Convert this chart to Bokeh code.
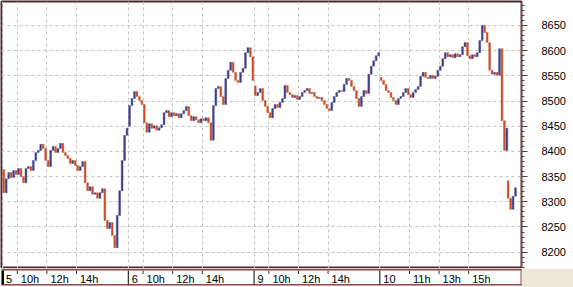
from bokeh.plotting import figure
from bokeh.layouts import column
from bokeh.models import Range1d, FixedTicker, ColumnDataSource, Grid
from bokeh.core.properties import value
from bokeh.embed import file_html
from bokeh.resources import INLINE

# ---------------- data ----------------
day_labels = ["5", "6", "9", "10"]
day_starts = [0.0, 8.5, 17.0, 25.5]          # trading hours elapsed at each day's 9:00 open
hour_labels = [["10h", "12h", "14h"], ["10h", "12h", "14h"],
               ["10h", "12h", "14h"], ["11h", "13h", "15h"]]
hour_values = [[10, 12, 14], [10, 12, 14], [10, 12, 14], [11, 13, 15]]
y_ticks = [8200, 8250, 8300, 8350, 8400, 8450, 8500, 8550, 8600, 8650]

# 10-minute closes per session
open_d5 = 8364
close_d5 = [8318, 8346, 8358, 8348, 8362, 8354, 8366, 8350, 8338, 8366,
            8370, 8362, 8382, 8398, 8402, 8414, 8406, 8382, 8370, 8402,
            8410, 8398, 8406, 8416, 8398, 8392, 8386, 8376, 8382, 8372,
            8362, 8370, 8380, 8338, 8322, 8330, 8315, 8318, 8307, 8318,
            8326, 8263, 8247, 8259, 8233, 8209, 8273, 8322, 8382, 8432,
            8446]
open_d6 = 8450
close_d6 = [8491, 8505, 8519, 8509, 8501, 8493, 8457, 8438, 8455, 8446,
            8451, 8442, 8447, 8453, 8477, 8481, 8469, 8477, 8471, 8475,
            8467, 8475, 8481, 8489, 8471, 8461, 8469, 8463, 8457, 8465,
            8461, 8467, 8457, 8422, 8491, 8525, 8529, 8509, 8493, 8545,
            8561, 8577, 8557, 8541, 8537, 8557, 8565, 8596, 8606, 8588,
            8541]
open_d9 = 8530
close_d9 = [8511, 8517, 8525, 8501, 8489, 8477, 8467, 8485, 8493, 8487,
            8497, 8505, 8531, 8517, 8513, 8507, 8511, 8503, 8509, 8517,
            8521, 8525, 8515, 8517, 8509, 8505, 8507, 8501, 8493, 8485,
            8481, 8497, 8509, 8517, 8521, 8519, 8533, 8545, 8541, 8529,
            8521, 8505, 8489, 8509, 8521, 8515, 8553, 8569, 8580, 8590,
            8596]
open_d10 = 8547
close_d10 = [8541, 8533, 8521, 8517, 8507, 8501, 8493, 8505, 8509, 8517,
             8525, 8513, 8507, 8517, 8523, 8529, 8549, 8557, 8547, 8545,
             8551, 8545, 8549, 8561, 8569, 8584, 8596, 8588, 8592, 8586,
             8594, 8588, 8592, 8608, 8616, 8590, 8584, 8592, 8588, 8596,
             8620, 8650, 8636, 8616, 8561, 8553, 8557, 8551, 8604, 8461,
             8402, 8446]
open_d10_late = 8342
close_d10_late = [8307, 8285, 8311, 8328]

sessions = [  # (day index, session start hour, open, closes)
    (0, 9.0, open_d5, close_d5),
    (1, 9.0, open_d6, close_d6),
    (2, 9.0, open_d9, close_d9),
    (3, 9.0, open_d10, close_d10),
    (3, 17.0 + 35 / 60, open_d10_late, close_d10_late),
]

UP = "#40408c"
DOWN = "#c8502a"

xs, tops, bots, cols = [], [], [], []
for d, start, op, closes in sessions:
    prev = op
    for i, c in enumerate(closes):
        xs.append(day_starts[d] + (start - 9.0) + (i + 0.5) / 6.0)
        tops.append(max(prev, c))
        bots.append(min(prev, c))
        cols.append(UP if c >= prev else DOWN)
        prev = c
bars = ColumnDataSource(dict(x=xs, top=tops, bottom=bots, color=cols))

# ---------------- main price panel ----------------
X0, X1 = -0.0676, 35.07
Y_BOT, Y_TOP = 8167.6, 8697.6
xr = Range1d(X0, X1)

p = figure(width=573, height=268, x_range=xr, y_range=Range1d(Y_BOT, Y_TOP),
           output_backend="svg", toolbar_location=None,
           x_axis_location=None, y_axis_location="right",
           min_border_left=1, min_border_right=52, min_border_top=1, min_border_bottom=0,
           background_fill_color="white", border_fill_color="white")
p.outline_line_color = "#4a2a2a"
p.outline_line_width = 2

grid_x = list(day_starts)
for d in range(4):
    grid_x += [day_starts[d] + h - 9 for h in hour_values[d]]

p.xgrid.visible = False
p.add_layout(Grid(dimension=0, ticker=FixedTicker(ticks=grid_x),
                  grid_line_color="#c4c4c4", grid_line_dash="3 3"))
p.ygrid.grid_line_color = "#c4c4c4"
p.ygrid.grid_line_dash = "3 3"

ax = p.yaxis[0]
ax.ticker = FixedTicker(ticks=y_ticks, minor_ticks=list(range(8170, 8700, 10)))
ax.axis_line_color = "#8c5050"
ax.major_tick_line_color = "#5a3a3a"
ax.minor_tick_line_color = "#5a3a3a"
ax.major_tick_out = 6
ax.major_tick_in = 0
ax.minor_tick_out = 3
ax.minor_tick_in = 0
ax.major_label_standoff = 14
ax.major_label_text_font = "Liberation Sans"
ax.major_label_text_font_size = "11px"
ax.major_label_text_color = "black"

p.vbar(x="x", width=0.75 / 6, top="top", bottom="bottom", source=bars,
       fill_color="color", line_color="color", line_width=0.4)

# ---------------- time strip (own small panel) ----------------
s = figure(width=573, height=19, x_range=xr, y_range=Range1d(19, 0),
           output_backend="svg", toolbar_location=None,
           x_axis_location=None, y_axis_location=None,
           min_border_left=1, min_border_right=52, min_border_top=0, min_border_bottom=0,
           background_fill_color="white", border_fill_color="#ECE9D8")
s.outline_line_color = None
s.xgrid.visible = False
s.ygrid.visible = False

hx, hl = [], []
for d in range(4):
    for h, lab in zip(hour_values[d], hour_labels[d]):
        hx.append(day_starts[d] + h - 9)
        hl.append(lab)

maroon = "#8c4848"
s.segment(x0=[X0 - 1], x1=[X1 + 1], y0=[1], y1=[1], line_color=maroon, line_width=2)
s.segment(x0=[X0 - 1], x1=[X1 + 1], y0=[16.3], y1=[16.3], line_color=maroon, line_width=1.5)
s.segment(x0=[X1], x1=[X1], y0=[0], y1=[17], line_color=maroon, line_width=2)
s.segment(x0=hx, x1=hx, y0=[2] * len(hx), y1=[5.5] * len(hx),
          line_color="#303030", line_width=1)
s.segment(x0=day_starts, x1=day_starts, y0=[2] * 4, y1=[16] * 4,
          line_color="black", line_width=[3, 1, 1, 1])
s.text(x=hx, y=[10] * len(hx), text=hl, text_font=value("Liberation Sans"),
       text_font_size="11px", text_baseline="middle", text_align="left",
       x_offset=3.5, text_color="black")
s.text(x=day_starts, y=[10] * 4, text=day_labels, text_font=value("Liberation Sans"),
       text_font_size="11px", text_baseline="middle", text_align="left",
       x_offset=3.5, text_color="black")

layout = column(p, s, spacing=0)
open("out.html", "w").write(file_html(layout, INLINE))
